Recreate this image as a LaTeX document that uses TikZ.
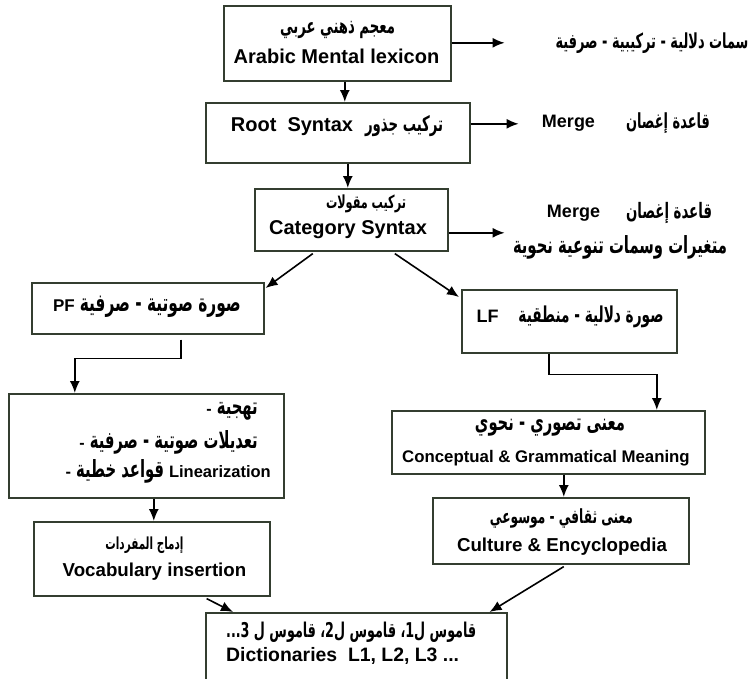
\documentclass[tikz,border=0pt]{standalone}
\usepackage{fontspec}
\usepackage{graphicx}
\setmainfont{Liberation Sans}
\newfontfamily\arabicfont[Script=Arabic]{DejaVu Sans}
\TeXXeTstate=1
\usetikzlibrary{arrows.meta,calc}
\definecolor{boxline}{RGB}{52,62,48}
% Arabic font switch (direction is given in the text itself)
\newcommand\artxt[1]{{\arabicfont\bfseries #1}}
% Arabic run scaled to a given width (in pt), a little taller than the font
\newcommand\arw[2]{\scalebox{1}[1.6]{\resizebox{#1pt}{!}{\artxt{#2}}}}
% Arabic run at 10pt, scaled by a given factor
\newcommand\arsc[2]{\scalebox{#1}[\fpeval{1.6*#1}]{\artxt{\fontsize{10}{12}\selectfont #2}}}
\newlength\arnat
\begin{document}
% common scale for the list in the linearization box
\settowidth\arnat{\artxt{\fontsize{10}{12}\selectfont\beginR تعديلات صوتية - صرفية\endR}}%
\xdef\linfac{\fpeval{168pt/(\the\arnat)}}%
\begin{tikzpicture}[x=1pt,y=-1pt,
  stage/.style={draw=boxline, line width=1.6pt, fill=white, anchor=north west, inner sep=0pt},
  arr/.style={-{Latex[length=12pt,width=10pt]}, line width=1.6pt, black},
  lbl/.style={inner sep=0pt, font=\bfseries}]
\fill[white] (0,0) rectangle (750,678);
\clip (0,0) rectangle (750,678);

% boxes
\node[stage, minimum width=227pt, minimum height=75pt] (lex)   at (223,5)   {};
\node[stage, minimum width=264pt, minimum height=60pt] (root)  at (205,102) {};
\node[stage, minimum width=193pt, minimum height=62pt] (cat)   at (254,188) {};
\node[stage, minimum width=232pt, minimum height=51pt] (pf)    at (31,282)  {};
\node[stage, minimum width=215pt, minimum height=63pt] (lf)    at (461,289) {};
\node[stage, minimum width=275pt, minimum height=104pt] (lin)  at (8,393)   {};
\node[stage, minimum width=313pt, minimum height=63pt] (conc)  at (391,410) {};
\node[stage, minimum width=256pt, minimum height=66pt] (cult)  at (432,497) {};
\node[stage, minimum width=236pt, minimum height=74pt] (vocab) at (33,521)  {};
\node[stage, minimum width=301pt, minimum height=90pt] (dict)  at (205,612) {};

% box texts
\node[lbl] (lexA) at (337.5,30) {\arw{115}{\beginR معجم ذهني عربي\endR}};
\node[lbl, font=\bfseries\fontsize{20}{22}\selectfont] (lexE) at (336.5,56) {Arabic Mental lexicon};

\node[lbl, font=\bfseries\fontsize{20}{22}\selectfont] (rootT) at (337,126)
  {Root\ \ Syntax\hspace{12pt}\arw{78}{\beginR تركيب جذور\endR}};

\node[lbl] (catA) at (366,204) {\arw{80}{\beginR تركيب مقولات\endR}};
\node[lbl, font=\bfseries\fontsize{20}{22}\selectfont] (catE) at (348,230) {Category Syntax};

\node[lbl, font=\bfseries\fontsize{17}{20}\selectfont] (pfT) at (147,307)
  {PF\hspace{5pt}\arw{161}{\beginR صورة صوتية - صرفية\endR}};

\node[lbl, font=\bfseries\fontsize{18}{20}\selectfont] (lfT) at (570,317)
  {LF\hspace{20pt}\arw{145}{\beginR صورة دلالية - منطقية\endR}};

\node[lbl, anchor=east, font=\bfseries\fontsize{16}{18}\selectfont] (lin1) at (258,411)
  {-\hspace{5pt}\arsc{\linfac}{\beginR تهجية\endR}};
\node[lbl, anchor=east, font=\bfseries\fontsize{16}{18}\selectfont] (lin2) at (258,442)
  {-\hspace{5pt}\arsc{\linfac}{\beginR تعديلات صوتية - صرفية\endR}};
\node[lbl, anchor=east, font=\bfseries\fontsize{16.5}{19}\selectfont] (lin3) at (271,471)
  {-\hspace{5pt}\arsc{\linfac}{\beginR قواعد خطية\endR}\hspace{5pt}Linearization};

\node[lbl] (concA) at (550,428) {\arw{150}{\beginR معنى تصوري - نحوي\endR}};
\node[lbl, font=\bfseries\fontsize{16.8}{19}\selectfont] (concE) at (546,458) {Conceptual \& Grammatical Meaning};

\node[lbl] (cultA) at (561.5,518) {\arw{143}{\beginR معنى ثقافي - موسوعي\endR}};
\node[lbl, font=\bfseries\fontsize{18.7}{21}\selectfont] (cultE) at (562,547) {Culture \& Encyclopedia};

\node[lbl] (vocabA) at (144.5,545) {\arw{78}{\beginR إدماج المفردات\endR}};
\node[lbl, font=\bfseries\fontsize{18.7}{21}\selectfont] (vocabE) at (154.5,572) {Vocabulary insertion};

\node[lbl, anchor=west] (dictA) at (226,632) {\arw{250}{\beginR قاموس ل1، قاموس ل2، قاموس ل 3\beginL...\endL\endR}};
\node[lbl, anchor=west, font=\bfseries\fontsize{19.4}{21}\selectfont] (dictE) at (226,656) {Dictionaries\ \ L1, L2, L3 ...};

% side notes
\node[lbl] (noteLex) at (652,43) {\arw{193}{\beginR سمات دلالية - تركيبية - صرفية\endR}};
\node[lbl, font=\bfseries\fontsize{18}{20}\selectfont] (mergeRoot) at (568.5,123) {Merge};
\node[lbl] (ruleRoot) at (668,123) {\arw{84}{\beginR قاعدة إغصان\endR}};
\node[lbl, font=\bfseries\fontsize{18}{20}\selectfont] (mergeCat) at (573.5,213) {Merge};
\node[lbl] (ruleCat) at (669,213) {\arw{86}{\beginR قاعدة إغصان\endR}};
\node[lbl] (varCat) at (620,247) {\arw{214}{\beginR متغيرات وسمات تنوعية نحوية\endR}};

% connectors
\draw[arr] ([xshift=7.5pt]lex.south) -- ([xshift=7.5pt]lex.south |- root.north);
\draw[arr] ([xshift=10pt]root.south) -- ([xshift=10pt]root.south |- cat.north);
\draw[arr] ([yshift=0.5pt]lex.east) -- ++(53,0);
\draw[arr] ([yshift=9pt]root.east) -- ++(48,0);
\draw[arr] ([yshift=-13pt]cat.east) -- ++(56,0);
\draw[arr] ([xshift=-38.5pt,yshift=-2pt]cat.south) -- ([xshift=1pt,yshift=-6pt]pf.north east);
\draw[arr] ([xshift=43.5pt,yshift=-2pt]cat.south) -- ([xshift=-2pt,yshift=-8pt]lf.north west);
\draw[arr] ([xshift=33pt,yshift=-5pt]pf.south) -- ++(0,19) -| ([xshift=-71.5pt]lin.north);
\draw[arr] ([xshift=-20.5pt]lf.south) -- ++(0,21) -| ([xshift=108.5pt]conc.north);
\draw[arr] ([xshift=15.5pt]conc.south) -- ([xshift=15.5pt]conc.south |- cult.north);
\draw[arr] ([xshift=7.5pt]lin.south) -- ([xshift=7.5pt]lin.south |- vocab.north);
\draw[arr] ([xshift=-64pt,yshift=-2pt]vocab.south east) -- ([xshift=28pt]dict.north west);
\draw[arr] ([xshift=3pt,yshift=-2pt]cult.south) -- ([xshift=-18pt]dict.north east);
\end{tikzpicture}
\end{document}
